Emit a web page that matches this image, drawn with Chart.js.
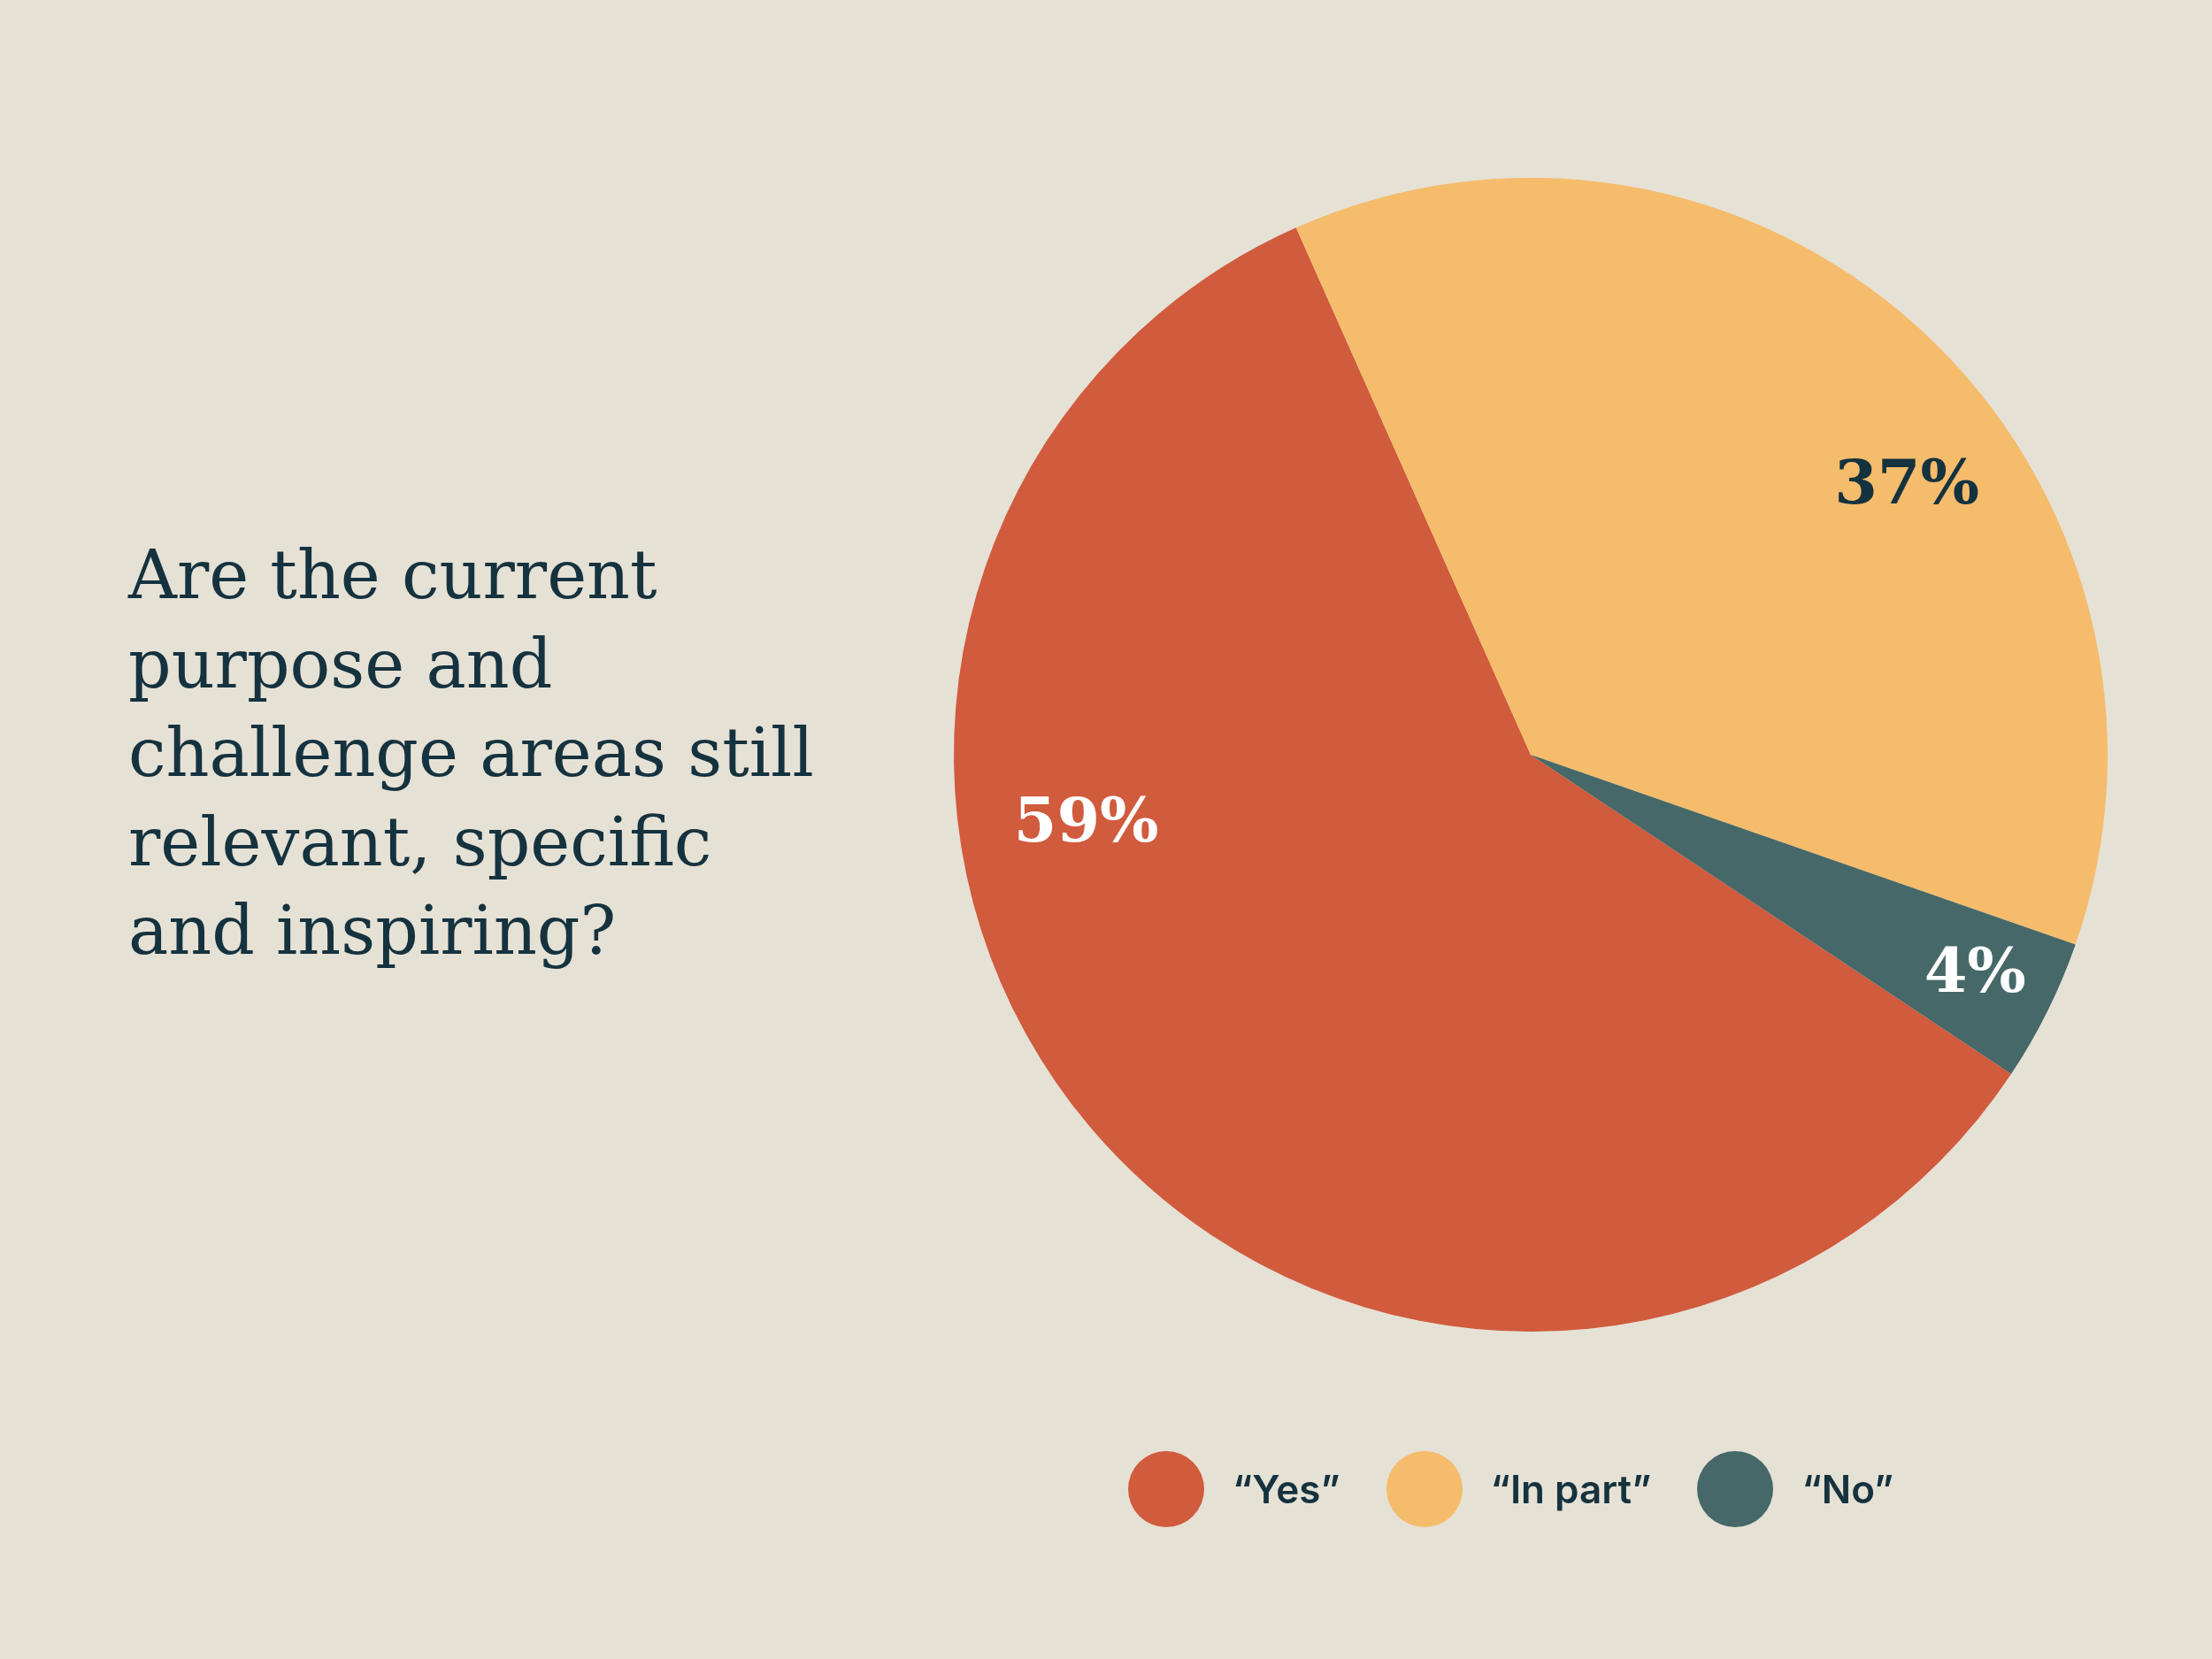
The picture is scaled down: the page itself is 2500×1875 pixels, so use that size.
<!DOCTYPE html>
<html>
<head>
<meta charset="utf-8">
<script src="https://cdn.jsdelivr.net/npm/chart.js@4.4.1/dist/chart.umd.min.js"></script>
<style>
  html, body { margin: 0; padding: 0; background: #E6E1D5; }
  #wrap { position: relative; width: 2500px; height: 1875px; overflow: hidden; }
  #pieChart { position: absolute; left: 0; top: 0; }
  #title {
    position: absolute; left: 145px; top: 600px; margin: 0;
    font-family: "DejaVu Serif", serif; font-weight: normal;
    font-size: 76px; line-height: 100.5px; color: #15323F;
  }
  #legend {
    position: absolute; left: 1275px; top: 1640px; height: 86px;
    display: flex; align-items: center; gap: 52px;
    font-family: Inter, sans-serif; font-weight: 600; font-size: 44px; color: #15323F;
  }
  .item { display: flex; align-items: center; gap: 32px; }
  .dot { width: 86px; height: 86px; border-radius: 50%; }
</style>
</head>
<body>
<div id="wrap">
  <canvas id="pieChart" width="2500" height="1875"></canvas>
  <h1 id="title">Are the current<br>purpose and<br>challenge areas still<br>relevant, specific<br>and inspiring?</h1>
  <div id="legend"></div>
</div>
<script>
const categories = ['“Yes”', '“In part”', '“No”'];
const shares = [59, 37, 4];
const percentLabels = ['59%', '37%', '4%'];
const sliceColors = ['#D15B3D', '#F5BC6C', '#466869'];
const labelColors = ['#FFFFFF', '#15323F', '#FFFFFF'];

// where each label sits inside its slice (fraction along arc, fraction of radius)
const labelAlong = [0.647, 0.59, 0.5];
const labelRadius = [0.78, 0.8, 0.86];

const sliceLabels = {
    id: 'sliceLabels',
    afterDatasetsDraw(chart) {
        const ctx = chart.ctx;
        const arcs = chart.getDatasetMeta(0).data;
        ctx.save();
        ctx.font = 'bold 70px "DejaVu Serif", serif';
        ctx.textAlign = 'center';
        ctx.textBaseline = 'middle';
        arcs.forEach((arc, i) => {
            const p = arc.getProps(['x', 'y', 'startAngle', 'endAngle', 'outerRadius'], true);
            const a = p.startAngle + (p.endAngle - p.startAngle) * labelAlong[i];
            const r = p.outerRadius * labelRadius[i];
            ctx.fillStyle = labelColors[i];
            ctx.fillText(percentLabels[i], p.x + Math.cos(a) * r, p.y + Math.sin(a) * r);
        });
        ctx.restore();
    }
};

const ctx = document.getElementById('pieChart').getContext('2d');
const pieChart = new Chart(ctx, {
    type: 'pie',
    data: {
        labels: categories,
        datasets: [{
            data: shares,
            backgroundColor: sliceColors,
            borderWidth: 0
        }]
    },
    options: {
        responsive: false,
        animation: false,
        rotation: 123.6,
        layout: {
            padding: { left: 1078, right: 118, top: 201, bottom: 370 }
        },
        plugins: {
            legend: { display: false },
            tooltip: { enabled: false }
        }
    },
    plugins: [sliceLabels]
});

// legend built from the same arrays
const legend = document.getElementById('legend');
categories.forEach((name, i) => {
    const item = document.createElement('div');
    item.className = 'item';
    const dot = document.createElement('div');
    dot.className = 'dot';
    dot.style.background = sliceColors[i];
    const txt = document.createElement('span');
    txt.textContent = name;
    item.appendChild(dot);
    item.appendChild(txt);
    legend.appendChild(item);
});
</script>
</body>
</html>
